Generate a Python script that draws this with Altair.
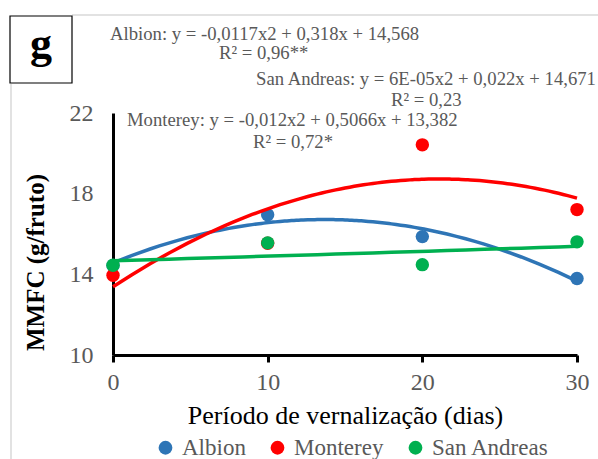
import altair as alt
import pandas as pd

# Fruit mass (MMFC, g/fruto) by vernalization period for three cultivars
dias = [0, 10, 20, 30]
cultivares = ["Albion", "Monterey", "San Andreas"]
albion = [14.44, 16.95, 15.87, 13.79]
monterey = [13.95, 15.54, 20.42, 17.21]
san_andreas = [14.45, 15.56, 14.48, 15.61]
cores = ["#2E75B6", "#FF0000", "#00B050"]

equacoes = [
    "Albion: y = -0,0117x2 + 0,318x + 14,568",
    "R² = 0,96**",
    "San Andreas: y = 6E-05x2 + 0,022x + 14,671",
    "R² = 0,23",
    "Monterey: y = -0,012x2 + 0,5066x + 13,382",
    "R² = 0,72*",
]
painel = "g"

df = pd.DataFrame({
    "dias": dias * 3,
    "mmfc": albion + monterey + san_andreas,
    "cultivar": [c for c in cultivares for _ in dias],
})

FONT = "Liberation Serif"
GRAY = "#595959"

color = alt.Color(
    "cultivar:N",
    scale=alt.Scale(domain=cultivares, range=cores),
    legend=alt.Legend(
        title=None, orient="none", direction="horizontal",
        legendX=41, legendY=323, padding=0,
        symbolType="circle", symbolSize=190, symbolStrokeWidth=0,
        symbolOpacity=1, labelFont=FONT, labelFontSize=23,
        labelColor=GRAY, labelOffset=5, columnPadding=20,
    ),
)

x_enc = alt.X(
    "dias:Q",
    scale=alt.Scale(domain=[0, 30], nice=False),
    axis=alt.Axis(
        values=[0, 10, 20, 30], title="Período de vernalização (dias)",
        labelFont=FONT, labelFontSize=24, labelColor=GRAY, labelFlush=False,
        labelPadding=8, domainColor="black", domainWidth=3,
        tickColor="black", tickWidth=3, tickSize=7, grid=False,
        titleFont=FONT, titleFontSize=26, titleFontWeight="normal",
        titleColor="black", titleY=68, titleBaseline="alphabetic",
    ),
)
y_enc = alt.Y(
    "mmfc:Q",
    scale=alt.Scale(domain=[10, 22], nice=False),
    axis=alt.Axis(
        values=[10, 14, 18, 22], title="MMFC (g/fruto)",
        labelFont=FONT, labelFontSize=24, labelColor=GRAY, ticks=False,
        labelPadding=20, domainColor="black", domainWidth=3, grid=False,
        titleFont=FONT, titleFontSize=25, titleFontWeight="bold",
        titleColor="black", titleX=-70, titleY=149, titleAngle=270,
        titleAlign="center", titleBaseline="alphabetic",
    ),
)

base = alt.Chart(df)

# each cultivar: markers, then its quadratic trend line on top
layers = []
for c in cultivares:
    pts = base.transform_filter(alt.datum.cultivar == c).mark_circle(
        size=180, opacity=1
    ).encode(x=x_enc, y=y_enc, color=color)
    fit = base.transform_filter(alt.datum.cultivar == c).transform_regression(
        "dias", "mmfc", method="poly", order=2, extent=[0, 30], groupby=["cultivar"]
    ).mark_line(strokeWidth=3.5).encode(
        x=x_enc, y=y_enc, color=alt.Color("cultivar:N", legend=None)
    )
    layers += [pts, fit]

# regression equations above the plot
pos = [(-3, -79), (106, -60), (143, -34), (278, -13), (14, 7), (140, 29)]
for txt, (px, py) in zip(equacoes, pos):
    layers.append(
        alt.Chart(pd.DataFrame({"t": [txt]})).mark_text(
            align="left", baseline="middle", font=FONT, fontSize=18.7, color=GRAY
        ).encode(x=alt.value(px), y=alt.value(py), text="t:N")
    )

# chart frame lines
frame_top = alt.Chart(pd.DataFrame({"a": [0]})).mark_rule(
    color="#D9D9D9", strokeWidth=1.5
).encode(x=alt.value(-41), x2=alt.value(485), y=alt.value(-98))
frame_left = alt.Chart(pd.DataFrame({"a": [0]})).mark_rule(
    color="#D9D9D9", strokeWidth=1.5
).encode(x=alt.value(-102), y=alt.value(-29), y2=alt.value(346))

# panel letter box
box = alt.Chart(pd.DataFrame({"a": [0]})).mark_rect(
    fill="white", stroke="black", strokeWidth=1.2
).encode(x=alt.value(-103), x2=alt.value(-41), y=alt.value(-97), y2=alt.value(-30))
letra = alt.Chart(pd.DataFrame({"t": [painel]})).mark_text(
    font=FONT, fontSize=44, fontWeight="bold", color="black",
    align="center", baseline="middle"
).encode(x=alt.value(-72), y=alt.value(-68), text="t:N")

chart = alt.layer(frame_top, frame_left, box, letra, *layers).properties(
    width=464, height=242,
    padding={"left": 113, "top": 113, "right": 21, "bottom": 104},
    autosize="none", background="white",
).configure(font=FONT).configure_view(stroke=None).configure_axis(
    labelFont=FONT, titleFont=FONT
).configure_legend(labelFont=FONT, titleFont=FONT)

chart.save("out.html", embed_options={"renderer": "svg", "actions": False})
